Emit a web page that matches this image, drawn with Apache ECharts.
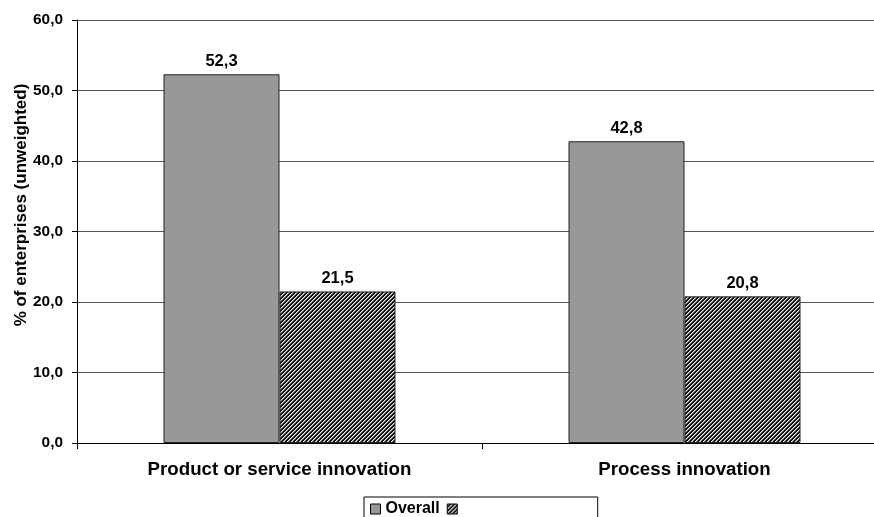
<html>
<head>
<meta charset="utf-8">
<script src="https://cdn.jsdelivr.net/npm/echarts@6/dist/echarts.min.js"></script>
<style>
    html, body { margin: 0; padding: 0; background: #fff; }
    #main { width: 874px; height: 517px; }
</style>
</head>
<body>
<div id="main"></div>
<script>
    var categories = ['Product or service innovation', 'Process innovation'];
    var overall = [52.3, 42.8];
    var second = [21.5, 20.8];
    var seriesNames = ['Overall', ' '];

    // fine diagonal hatch for the second series
    var hatch = document.createElement('canvas');
    hatch.width = 4;
    hatch.height = 4;
    var ctx = hatch.getContext('2d');
    var shades = ['#eeeeee', '#808080', '#111111', '#111111'];
    for (var x = 0; x < 4; x++) {
        for (var y = 0; y < 4; y++) {
            ctx.fillStyle = shades[(x + y) % 4];
            ctx.fillRect(x, y, 1, 1);
        }
    }

    var fmt = function (v) { return v.toFixed(1).replace('.', ','); };

    var chart = echarts.init(document.getElementById('main'));
    chart.setOption({
        animation: false,
        textStyle: { fontFamily: 'Liberation Sans, Arial, sans-serif' },
        grid: { left: 77, top: 20, width: 810, height: 423, outerBoundsMode: 'none', containLabel: false },
        legend: {
            left: 364, top: 497,
            data: seriesNames,
            icon: 'rect',
            itemWidth: 10, itemHeight: 10, itemGap: 7,
            padding: [4, 131, 10, 6],
            borderColor: '#000', borderWidth: 1,
            textStyle: { fontWeight: 'bold', fontSize: 16, color: '#000' },
            itemStyle: { borderColor: '#000', borderWidth: 1 }
        },
        xAxis: {
            type: 'category',
            data: categories,
            axisLine: { lineStyle: { color: '#000', width: 1 } },
            axisTick: { show: true, length: 6, lineStyle: { color: '#000' } },
            axisLabel: { fontWeight: 'bold', fontSize: 18.7, color: '#000', margin: 17 }
        },
        yAxis: {
            type: 'value',
            min: 0, max: 60, interval: 10,
            name: '% of enterprises (unweighted)',
            nameLocation: 'middle',
            nameGap: 47,
            nameMoveOverlap: false,
            nameTextStyle: { fontWeight: 'bold', fontSize: 17, color: '#000', padding: [0, 0, 0, 53] },
            axisLine: { show: true, lineStyle: { color: '#000' } },
            axisTick: { show: true, length: 5, lineStyle: { color: '#000' } },
            axisLabel: { fontWeight: 'bold', fontSize: 15.4, color: '#000', margin: 14, formatter: fmt },
            splitLine: { lineStyle: { color: '#555', width: 1 } }
        },
        series: [
            {
                name: seriesNames[0], type: 'bar', data: overall,
                barWidth: 116, barGap: '0%',
                itemStyle: { color: '#989898', borderColor: '#222', borderWidth: 1 },
                label: { show: true, position: 'top', distance: 4, fontWeight: 'bold', fontSize: 16.5, color: '#000', formatter: function (p) { return fmt(p.value); } }
            },
            {
                name: seriesNames[1], type: 'bar', data: second,
                barWidth: 116,
                itemStyle: { color: { image: hatch, repeat: 'repeat' }, borderColor: '#222', borderWidth: 1 },
                label: { show: true, position: 'top', distance: 4, fontWeight: 'bold', fontSize: 16.5, color: '#000', formatter: function (p) { return fmt(p.value); } }
            }
        ]
    });
</script>
</body>
</html>
